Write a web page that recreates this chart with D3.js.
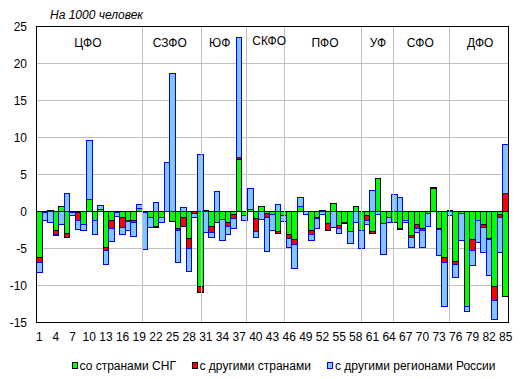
<!DOCTYPE html>
<html>
<head>
<meta charset="utf-8">
<script src="https://cdn.jsdelivr.net/npm/d3@7"></script>
<style>
  body { margin: 0; background: #fff; }
  text { font-family: "Liberation Sans", Arial, sans-serif; fill: #000; }
</style>
</head>
<body>
<div id="chart"></div>
<script>
// Regions 1..85
const regions = d3.range(1, 86);

// со странами СНГ
const cisValues = [
  -6.2, -0.15, 0.1, -2.5, 0.65, -3.0, -0.1, -0.1, -1.8, 1.6,
  -1.25, 0.25, -4.8, -1.25, -0.15, -0.8, -1.25, -1.25, 0.4, -0.15,
  -0.75, -2.0, -0.75, 0.05, -1.3, -2.35, -0.8, -3.6, 0, -10.1,
  0.2, -2.0, -1.45, -1.1, -1.45, -0.45, 7.0, -0.55, 0.3, -1.0,
  0.65, -0.3, -0.4, -2.65, -0.5, -3.15, -3.8, 0.65, -0.05, -2.5,
  -0.75, 0.1, -1.65, 1.1, -1.9, -1.55, -2.65, 0.65, -2.55, -0.55,
  -2.65, 4.4, -1.65, -0.75, -1.55, -2.35, -1.2, -3.25, -1.75, -2.35,
  -0.3, 3.15, -2.25, -6.25, 0.1, -6.75, -0.3, -12.8, -3.85, -1.2,
  -1.75, -3.6, -10.1, -0.45, -11.5
];

// с другими странами
const otherCountriesValues = [
  -0.7, 0, 0, -0.55, 0, -0.55, 0, -1.15, 0, 0,
  0, 0, -0.5, -1.1, 0, -1.4, -0.1, -0.25, 0.05, 0,
  0, -0.1, 0, 0, -0.1, -0.2, -1.2, -1.45, -0.3, -0.9,
  0, -0.9, -0.05, 0, -0.55, -0.55, 0.3, 0, 0, -1.7,
  0, -0.55, 0, -0.35, 0, -0.55, -0.65, 0, 0, -0.65,
  -0.2, 0, -0.95, 0, -0.35, -0.05, 0, 0, 0, -0.7,
  -0.35, 0, 0, 0, 0, -0.05, 0, -0.3, -0.5, -0.2,
  0, 0.1, -0.2, -0.6, 0, -0.4, 0, 0, -1.45, 0,
  -0.45, -0.2, -1.95, -0.4, 2.4
];

// с другими регионами России
const russiaRegionsValues = [
  -1.4, -1.1, -1.5, -0.25, -1.75, 2.4, -0.4, -1.2, -0.8, 8.0,
  -1.9, 0.5, -1.9, -1.65, -0.5, -0.85, -1.2, -1.9, 0.45, -5.0,
  -1.45, 1.2, -0.75, 6.6, 18.6, -4.4, 0.55, -3.0, -0.5, 7.7,
  -2.8, -0.6, 2.65, -2.85, -1.15, -1.35, 16.2, -0.7, 2.75, -0.85,
  -1.1, -4.5, -2.2, 0.9, -0.8, -1.2, -3.25, 1.3, -0.3, -0.8,
  -1.35, -0.35, 0, -2.2, -0.75, 0, -1.7, -1.45, -2.5, -0.45,
  2.85, -0.45, -4.2, -0.7, 2.25, 1.9, -0.3, -1.25, -0.55, -2.25,
  -1.7, 0, -3.55, -6.0, -0.6, -1.8, -3.65, -0.75, -1.95, -3.05,
  -3.4, -4.9, -2.6, -4.75, 6.6
];

const seriesNames = ['со странами СНГ', 'с другими странами', 'с другими регионами России'];
const seriesFill = ['#00ff00', '#ff0000', '#80c6ff'];
const seriesStroke = ['#000000', '#000000', '#0000ff'];

const yTicks = [25, 20, 15, 10, 5, 0, -5, -10, -15];
const xTickLabels = regions.filter(d => (d - 1) % 3 === 0);

// Federal districts: boundaries and label centres in category units
const districtNames = ['ЦФО', 'СЗФО', 'ЮФ', 'СКФО', 'ПФО', 'УФ', 'СФО', 'ДФО'];
const districtBounds = [19.0, 29.55, 37.8, 44.65, 58.45, 64.15, 74.35];
const districtLabelPos = [9.25, 24.0, 33.0, 41.9, 51.95, 61.5, 69.1, 79.9];

const width = 520, height = 379;
const plotLeft = 36.5, plotRight = 508.5, plotTop = 26.5, plotBottom = 322.5;

const svg = d3.select('#chart').append('svg')
    .attr('width', width)
    .attr('height', height);

let x = d3.scaleBand().domain(regions).range([plotLeft, plotRight]).padding(0);
let xPos = d3.scaleLinear().domain([0, regions.length]).range([plotLeft, plotRight]);
let y = d3.scaleLinear().domain([-15, 25]).range([plotBottom, plotTop]);

// Gridlines
svg.append('g').selectAll('line')
    .data(yTicks.filter(d => d !== 0 && d !== 25 && d !== -15))
  .enter().append('line')
    .attr('x1', plotLeft).attr('x2', plotRight)
    .attr('y1', d => y(d)).attr('y2', d => y(d))
    .attr('stroke', '#c0c0c0')
    .attr('shape-rendering', 'crispEdges');

// Zero line
svg.append('line')
    .attr('x1', plotLeft).attr('x2', plotRight)
    .attr('y1', y(0)).attr('y2', y(0))
    .attr('stroke', '#000')
    .attr('shape-rendering', 'crispEdges');

// Stacked bars
let table = regions.map((r, i) => ({
    region: r,
    s0: cisValues[i],
    s1: otherCountriesValues[i],
    s2: russiaRegionsValues[i]
}));

let stacked = d3.stack()
    .keys(['s0', 's1', 's2'])
    .offset(d3.stackOffsetDiverging)(table);

svg.append('g').selectAll('g')
    .data(stacked)
  .enter().append('g')
    .attr('fill', (d, i) => seriesFill[i])
    .attr('stroke', (d, i) => seriesStroke[i])
  .selectAll('rect')
    .data(d => d.filter(p => p[1] - p[0] !== 0))
  .enter().append('rect')
    .attr('x', d => x(d.data.region))
    .attr('width', x.bandwidth())
    .attr('y', d => y(Math.max(d[0], d[1])))
    .attr('height', d => Math.abs(y(d[0]) - y(d[1])))
    .attr('shape-rendering', 'crispEdges');

// District separators
svg.append('g').selectAll('line')
    .data(districtBounds)
  .enter().append('line')
    .attr('x1', d => Math.round(xPos(d)) + 0.5).attr('x2', d => Math.round(xPos(d)) + 0.5)
    .attr('y1', plotTop).attr('y2', plotBottom)
    .attr('stroke', '#c0c0c0')
    .attr('shape-rendering', 'crispEdges');

// Frame
svg.append('rect')
    .attr('x', plotLeft).attr('y', plotTop)
    .attr('width', plotRight - plotLeft).attr('height', plotBottom - plotTop)
    .attr('fill', 'none')
    .attr('stroke', '#000')
    .attr('shape-rendering', 'crispEdges');

// District labels
svg.append('g').selectAll('text')
    .data(districtNames)
  .enter().append('text')
    .attr('x', (d, i) => xPos(districtLabelPos[i]))
    .attr('y', d => d === 'СКФО' ? 44.5 : 46.5)
    .attr('text-anchor', 'middle')
    .style('font-size', '12px')
    .text(d => d);

// Y axis labels
svg.append('g').selectAll('text')
    .data(yTicks)
  .enter().append('text')
    .attr('x', 27)
    .attr('y', d => y(d))
    .attr('dy', '0.35em')
    .attr('text-anchor', 'end')
    .style('font-size', '12px')
    .text(d => d);

// X axis labels
svg.append('g').selectAll('text')
    .data(xTickLabels)
  .enter().append('text')
    .attr('x', d => x(d) + x.bandwidth() / 2)
    .attr('y', 341)
    .attr('text-anchor', 'middle')
    .style('font-size', '12px')
    .text(d => d);

// Units title
svg.append('text')
    .attr('x', 50)
    .attr('y', 19)
    .style('font-size', '12px')
    .style('font-style', 'italic')
    .text('На 1000 человек');

// Legend
const legendSquareX = [72, 192, 327];
const legendTextX = [79.5, 199.5, 335];
let legend = svg.append('g').selectAll('g')
    .data(seriesNames)
  .enter().append('g');

legend.append('rect')
    .attr('x', (d, i) => legendSquareX[i] + 0.5)
    .attr('y', 362.5)
    .attr('width', 5)
    .attr('height', 6)
    .attr('fill', (d, i) => seriesFill[i])
    .attr('stroke', (d, i) => seriesStroke[i])
    .attr('shape-rendering', 'crispEdges');

legend.append('text')
    .attr('x', (d, i) => legendTextX[i])
    .attr('y', 370)
    .style('font-size', '12px')
    .text(d => d);
</script>
</body>
</html>
